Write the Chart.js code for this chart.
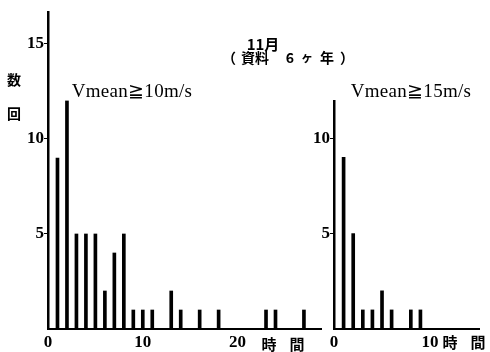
<!DOCTYPE html>
<html>
<head>
<meta charset="utf-8">
<script src="https://cdn.jsdelivr.net/npm/chart.js@4.4.1/dist/chart.umd.min.js"></script>
<style>
  html, body { margin: 0; padding: 0; background: #fff; }
  #wrap { position: relative; width: 490px; height: 352px; overflow: hidden; }
  canvas { position: absolute; left: 0; top: 0; }
  .t { position: absolute; transform: translate(-50%, -50%); white-space: pre; color: #000; line-height: 1; }
  .jp { font-family: "Noto Sans CJK JP", sans-serif; font-weight: 700; }
  .lat { font-family: "Liberation Serif", serif; }
</style>
</head>
<body>
<div id="wrap">
  <canvas id="left" width="490" height="352"></canvas>
  <canvas id="right" width="490" height="352"></canvas>

  <div class="t jp" style="left:263px; top:43px; font-size:15px;">11月</div>
  <div class="t jp" style="left:229px; top:57px; font-size:14px;">（</div>
  <div class="t jp" style="left:255px; top:57px; font-size:14px;">資料</div>
  <div class="t jp" style="left:290px; top:57px; font-size:14px;">6</div>
  <div class="t jp" style="left:307px; top:57px; font-size:12px;">ヶ</div>
  <div class="t jp" style="left:327px; top:57px; font-size:14px;">年</div>
  <div class="t jp" style="left:347px; top:57px; font-size:14px;">）</div>

  <div class="t jp" style="left:14px; top:79px; font-size:14px;">数</div>
  <div class="t jp" style="left:14px; top:113px; font-size:14px;">回</div>

  <div class="t lat" style="left:132px; top:90px; font-size:19px; letter-spacing:0.3px;">Vmean≧10m/s</div>
  <div class="t lat" style="left:411px; top:90px; font-size:19px; letter-spacing:0.3px;">Vmean≧15m/s</div>

  <div class="t jp" style="left:269px; top:343px; font-size:15px;">時</div>
  <div class="t jp" style="left:297px; top:343px; font-size:15px;">間</div>
  <div class="t jp" style="left:450px; top:341px; font-size:15px;">時</div>
  <div class="t jp" style="left:478px; top:341px; font-size:15px;">間</div>
</div>

<script>
// November, 6 years of records: number of cases by duration (hours)
const hoursA  = [1, 2, 3, 4, 5, 6, 7, 8, 9, 10, 11, 13, 14, 16, 18, 23, 24, 27];
const countsA = [9, 12, 5, 5, 5, 2, 4, 5, 1, 1, 1, 2, 1, 1, 1, 1, 1, 1];

const hoursB  = [1, 2, 3, 4, 5, 6, 8, 9];
const countsB = [9, 5, 1, 1, 2, 1, 1, 1];

const xTicksA = [0, 10, 20];
const yTicksA = [5, 10, 15];
const xTicksB = [0, 10];
const yTicksB = [5, 10];

const INK = '#000';
const tickFont = { family: 'Liberation Serif', size: 17, weight: 'bold' };

function makeChart(id, hours, counts, xTicks, yTicks, opt) {
  const pts = hours.map((h, i) => ({ x: h, y: counts[i] }));
  return new Chart(document.getElementById(id), {
    type: 'bar',
    data: { datasets: [{ data: pts, backgroundColor: INK, borderWidth: 0, barThickness: 3 }] },
    options: {
      responsive: false,
      animation: false,
      devicePixelRatio: 1,
      layout: { padding: { top: opt.top, right: opt.right, left: 0, bottom: 0 } },
      plugins: { legend: { display: false }, tooltip: { enabled: false } },
      scales: {
        x: {
          type: 'linear',
          min: 0,
          max: opt.xMax,
          offset: false,
          afterBuildTicks: s => { s.ticks = xTicks.map(v => ({ value: v })); },
          afterFit: s => { s.height = 352 - 329; },
          grid: { display: false },
          border: { display: true, color: INK, width: 2 },
          ticks: { color: INK, font: tickFont, padding: -5, maxRotation: 0, autoSkip: false }
        },
        y: {
          min: 0,
          max: opt.yMax,
          afterBuildTicks: s => { s.ticks = yTicks.map(v => ({ value: v })); },
          afterFit: s => { s.width = opt.left; },
          grid: { display: true, drawOnChartArea: false, drawTicks: true, tickLength: 4, color: INK, lineWidth: 1 },
          border: { display: true, color: INK, width: 2.5 },
          ticks: { color: INK, font: tickFont, padding: 0 }
        }
      }
    }
  });
}

makeChart('left', hoursA, countsA, xTicksA, yTicksA, { left: 48, right: 490 - 321, top: 12, xMax: 28.8, yMax: 16.68 });
makeChart('right', hoursB, countsB, xTicksB, yTicksB, { left: 334, right: 490 - 479, top: 101, xMax: 15.1, yMax: 11.95 });
</script>
</body>
</html>
